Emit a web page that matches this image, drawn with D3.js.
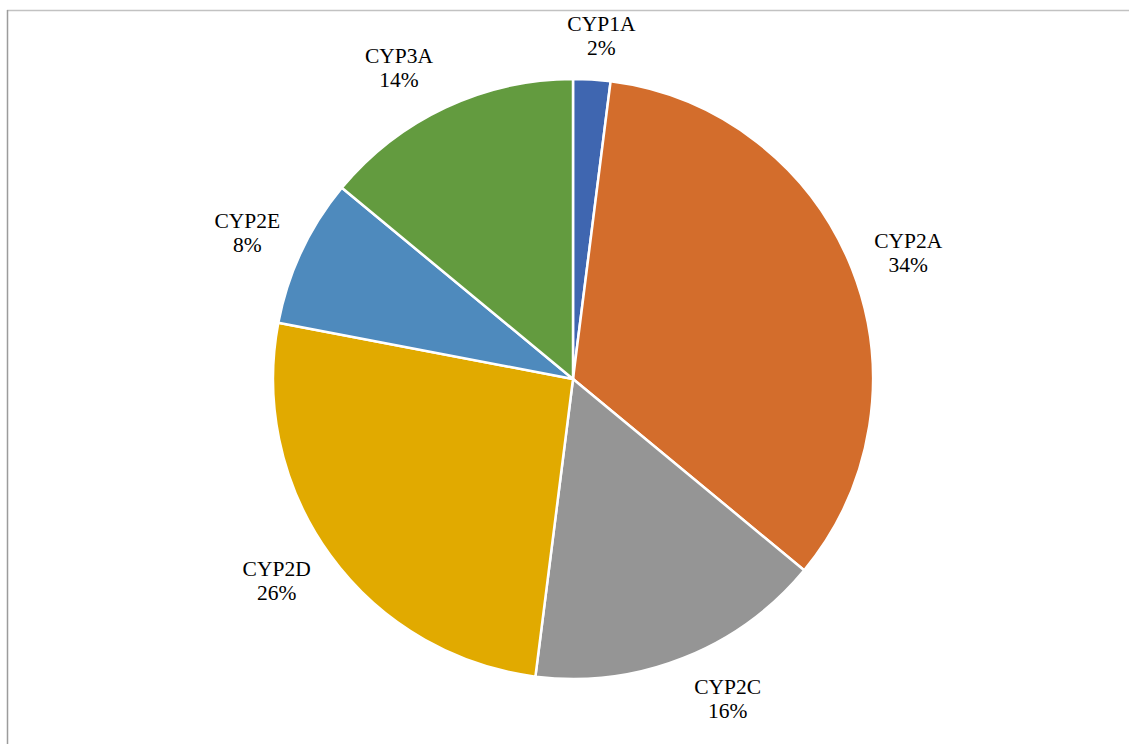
<!DOCTYPE html>
<html>
<head>
<meta charset="utf-8">
<script src="https://cdn.jsdelivr.net/npm/d3@7"></script>
<style>
  html, body { margin: 0; padding: 0; background: #fff; }
  svg { display: block; }
</style>
</head>
<body>
<script>
const width = 1129;
const height = 744;

const names = ["CYP1A", "CYP2A", "CYP2C", "CYP2D", "CYP2E", "CYP3A"];
const shares = [2, 34, 16, 26, 8, 14];
const colors = ["#3f66b0", "#d36d2c", "#959595", "#e1aa00", "#4e8abd", "#639b3f"];

const cx = 573, cy = 379, R = 300;

const svg = d3.select("body")
  .append("svg")
  .attr("width", width)
  .attr("height", height);

// chart frame (only top and left edges fall inside the view)
svg.append("line")
  .attr("x1", 7).attr("y1", 10.5).attr("x2", width).attr("y2", 10.5)
  .attr("stroke", "#c2c2c2").attr("stroke-width", 1.5);
svg.append("line")
  .attr("x1", 7.5).attr("y1", 10).attr("x2", 7.5).attr("y2", height)
  .attr("stroke", "#9c9c9c").attr("stroke-width", 1.5);

const data = names.map((n, i) => ({ name: n, value: shares[i], color: colors[i] }));

const pie = d3.pie().value(d => d.value).sort(null);
const arc = d3.arc().innerRadius(0).outerRadius(R);
const arcs = pie(data);

const g = svg.append("g").attr("transform", `translate(${cx},${cy})`);

g.selectAll("path.slice")
  .data(arcs)
  .enter().append("path")
  .attr("class", "slice")
  .attr("d", arc)
  .attr("fill", d => d.data.color)
  .attr("stroke", "#fff")
  .attr("stroke-width", 2.5)
  .attr("stroke-linejoin", "round");

const fontSize = 21.5, lineH = 24;
const anchorR = R + 20;

const labels = g.selectAll("text.lbl")
  .data(arcs)
  .enter().append("text")
  .attr("class", "lbl")
  .attr("text-anchor", "middle")
  .attr("font-family", "Liberation Serif, Times New Roman, serif")
  .attr("font-size", fontSize)
  .attr("fill", "#000");

labels.append("tspan").attr("x", 0).attr("y", 0).text(d => d.data.name);
labels.append("tspan").attr("x", 0).attr("y", lineH).text(d => d.data.value + "%");

// anchor just outside the rim, box pushed outward like Excel's outside-end labels
const capH = fontSize * 0.66;
labels.each(function(d) {
  const bb = this.getBBox();
  const a = (d.startAngle + d.endAngle) / 2;
  const s = Math.sin(a), c = -Math.cos(a);
  const hw = bb.width / 2;
  const hh = (lineH + capH) / 2;
  const ax = anchorR * s, ay = anchorR * c;
  const kx = Math.max(-1, Math.min(1, 3.5 * s));
  const lx = ax + 1.1 * hw * kx;
  const ly = ay + 1.25 * hh * c;
  // block centre sits between cap top of line 1 and baseline of line 2
  const baseline = ly - (lineH - capH) / 2;
  d3.select(this).attr("transform", `translate(${lx},${baseline})`);
});
</script>
</body>
</html>
